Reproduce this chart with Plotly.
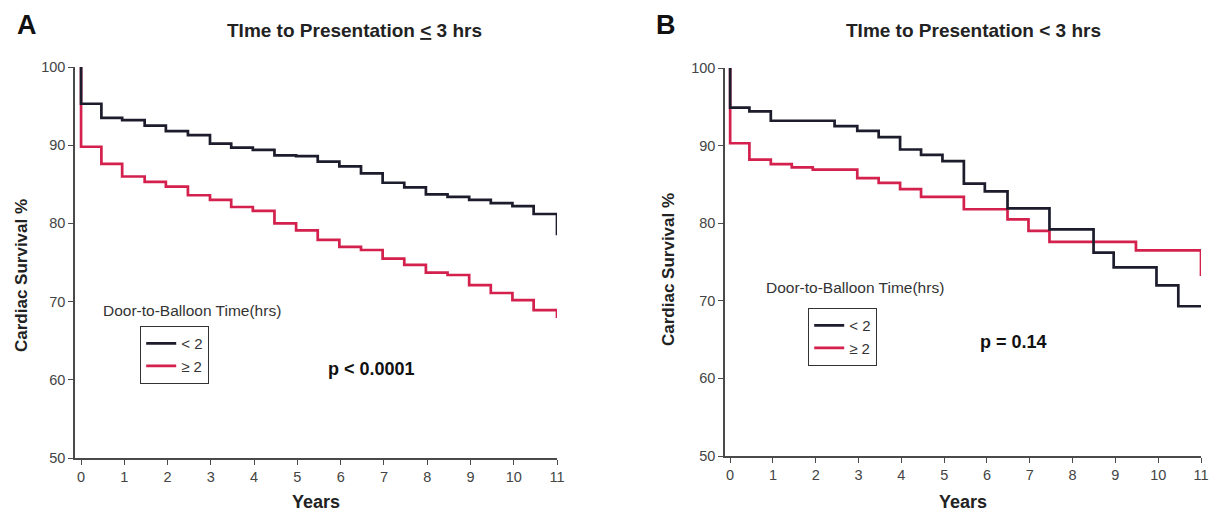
import plotly.graph_objects as go

# ---------------- data ----------------
# Panel A: Time to Presentation <= 3 hrs
a_lt2_years = [0, 0, 0.47, 0.95, 1.47, 1.96, 2.47, 2.98, 3.47, 3.97, 4.47, 4.97, 5.47, 5.97, 6.47,
               6.97, 7.47, 7.97, 8.47, 8.97, 9.47, 9.97, 10.46, 11, 11]
a_lt2_surv = [100, 95.3, 93.5, 93.2, 92.5, 91.8, 91.3, 90.2, 89.7, 89.4, 88.7, 88.6, 87.9, 87.3, 86.4,
              85.2, 84.6, 83.7, 83.4, 83.0, 82.6, 82.2, 81.2, 81.2, 78.5]
a_ge2_years = [0, 0, 0.47, 0.95, 1.47, 1.96, 2.47, 2.98, 3.47, 3.97, 4.47, 4.97, 5.47, 5.97, 6.47,
               6.97, 7.47, 7.97, 8.47, 8.97, 9.47, 9.97, 10.46, 11, 11]
a_ge2_surv = [100, 89.8, 87.6, 86.0, 85.3, 84.7, 83.6, 83.0, 82.1, 81.6, 80.0, 79.1, 77.9, 77.0, 76.6,
              75.5, 74.7, 73.7, 73.4, 72.1, 71.1, 70.2, 68.9, 68.9, 67.9]

# Panel B: Time to Presentation < 3 hrs
b_lt2_years = [0, 0, 0.45, 0.95, 2.44, 2.97, 3.47, 3.97, 4.46, 4.96, 5.46, 5.95, 6.48, 7.46, 8.49,
               8.96, 9.96, 10.47, 11]
b_lt2_surv = [100, 94.9, 94.4, 93.2, 92.5, 91.9, 91.1, 89.5, 88.8, 88.0, 85.1, 84.1, 81.9, 79.2, 76.2,
              74.3, 72.0, 69.3, 69.3]
b_ge2_years = [0, 0, 0.45, 0.95, 1.44, 1.93, 2.97, 3.47, 3.97, 4.46, 5.46, 6.48, 6.97, 7.46, 9.48,
               11, 11]
b_ge2_surv = [100, 90.3, 88.2, 87.6, 87.2, 86.9, 85.8, 85.2, 84.4, 83.4, 81.8, 80.5, 79.0, 77.6, 76.5,
              76.5, 73.2]

x_ticks = list(range(0, 12))
y_ticks = [50, 60, 70, 80, 90, 100]
series_names = ["< 2", "≥ 2"]
panel_titles = ["TIme to Presentation <u>&lt;</u> 3 hrs", "TIme to Presentation &lt; 3 hrs"]
panel_letters = ["A", "B"]
p_values = ["p &lt; 0.0001", "p = 0.14"]
y_title = "Cardiac Survival %"
x_title = "Years"
legend_heading = "Door-to-Balloon Time(hrs)"

# ---------------- styling ----------------
W, H = 1211, 512
BLACK = "#1c1c2c"
RED = "#d3204c"
AXIS = "#4a4a4a"
FONT = "Liberation Sans, Arial, Helvetica, sans-serif"


def px_x(p):
    return p / W


def px_y(p):
    return (H - p) / H


fig = go.Figure()

# Panel A traces (red first so black sits on top)
fig.add_trace(go.Scatter(x=a_ge2_years, y=a_ge2_surv, mode="lines", line_shape="hv",
                         line=dict(color=RED, width=2.7), name=series_names[1],
                         xaxis="x", yaxis="y", legend="legend", legendrank=2))
fig.add_trace(go.Scatter(x=a_lt2_years, y=a_lt2_surv, mode="lines", line_shape="hv",
                         line=dict(color=BLACK, width=2.7), name=series_names[0],
                         xaxis="x", yaxis="y", legend="legend", legendrank=1))
# Panel B traces
fig.add_trace(go.Scatter(x=b_ge2_years, y=b_ge2_surv, mode="lines", line_shape="hv",
                         line=dict(color=RED, width=2.7), name=series_names[1],
                         xaxis="x2", yaxis="y2", legend="legend2", legendrank=2))
fig.add_trace(go.Scatter(x=b_lt2_years, y=b_lt2_surv, mode="lines", line_shape="hv",
                         line=dict(color=BLACK, width=2.7), name=series_names[0],
                         xaxis="x2", yaxis="y2", legend="legend2", legendrank=1))

common_x = dict(tickmode="array", tickvals=x_ticks, ticks="outside", ticklen=5, tickwidth=1.2,
                tickcolor=AXIS, showline=True, linecolor=AXIS, linewidth=1.5, showgrid=False,
                zeroline=False, tickfont=dict(family=FONT, size=14.5, color="#444"),
                title=dict(text="<b>" + x_title + "</b>", font=dict(family=FONT, size=18, color="#222"),
                           standoff=13),
                automargin=False, fixedrange=True)
common_y = dict(tickmode="array", tickvals=y_ticks, ticks="outside", ticklen=5, tickwidth=1.2,
                tickcolor=AXIS, showline=True, linecolor=AXIS, linewidth=1.5, showgrid=False,
                zeroline=False, tickfont=dict(family=FONT, size=14.5, color="#444"),
                range=[50, 100], automargin=False, fixedrange=True)

fig.update_layout(
    width=W, height=H,
    margin=dict(l=0, r=0, t=0, b=0),
    paper_bgcolor="white", plot_bgcolor="white",
    xaxis=dict(common_x, domain=[px_x(75), px_x(557)], range=[-0.14, 11], anchor="y"),
    yaxis=dict(common_y, domain=[px_y(458), px_y(67)], anchor="x"),
    xaxis2=dict(common_x, domain=[px_x(725), px_x(1201)], range=[-0.12, 11], anchor="y2"),
    yaxis2=dict(common_y, domain=[px_y(456), px_y(68)], anchor="x2"),
    legend=dict(x=px_x(140), y=px_y(326), xanchor="left", yanchor="top",
                bordercolor="#333", borderwidth=1.2, bgcolor="white",
                font=dict(family=FONT, size=15, color="#333"), tracegroupgap=0,
                itemwidth=30),
    legend2=dict(x=px_x(808), y=px_y(308), xanchor="left", yanchor="top",
                 bordercolor="#333", borderwidth=1.2, bgcolor="white",
                 font=dict(family=FONT, size=15, color="#333"), tracegroupgap=0,
                 itemwidth=30),
    showlegend=True,
)


def ann(text, x, y, size, color="#222", angle=0):
    return dict(text=text, x=px_x(x), y=px_y(y), xref="paper", yref="paper",
                xanchor="center", yanchor="middle", showarrow=False, textangle=angle,
                font=dict(family=FONT, size=size, color=color))


annotations = [
    ann("<b>" + panel_letters[0] + "</b>", 27, 25, 27, "#111"),
    ann("<b>" + panel_letters[1] + "</b>", 666, 25, 27, "#111"),
    ann("<b>" + panel_titles[0] + "</b>", 354, 30, 19),
    ann("<b>" + panel_titles[1] + "</b>", 973, 30, 19),
    ann(legend_heading, 192, 310, 15.5, "#333"),
    ann(legend_heading, 855, 287, 15.5, "#333"),
    ann("<b>" + p_values[0] + "</b>", 371, 369, 18, "#111"),
    ann("<b>" + p_values[1] + "</b>", 1013, 342, 18, "#111"),
    ann("<b>" + y_title + "</b>", 21, 276, 17, "#222", -90),
    ann("<b>" + y_title + "</b>", 668, 270, 17, "#222", -90),
]
fig.update_layout(annotations=annotations)

fig.write_html("out.html", config={"displayModeBar": False},
               post_script="document.body.style.margin='0';document.body.style.overflow='hidden';")
